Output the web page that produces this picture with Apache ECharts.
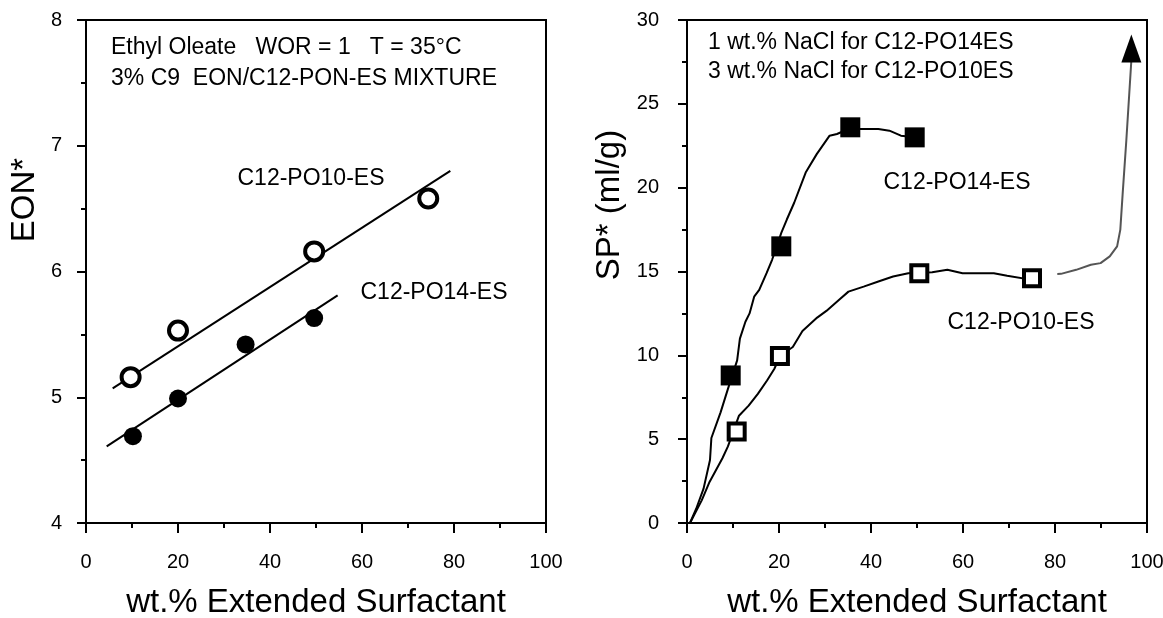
<!DOCTYPE html>
<html>
<head>
<meta charset="utf-8">
<script src="https://cdn.jsdelivr.net/npm/echarts@6/dist/echarts.min.js"></script>
<style>html,body{margin:0;padding:0;background:#fff}#c{width:1163px;height:618px}</style>
</head>
<body>
<div id="c"></div>
<script>
// ---------- data: left panel (EON*) ----------
const po10EonPoints = [[9.7, 5.16], [20, 5.53], [49.6, 6.16], [74.4, 6.58]];
const po14EonPoints = [[10.2, 4.69], [20, 4.99], [34.7, 5.42], [49.6, 5.63]];
const po10EonFit = [[5.8, 5.07], [79.2, 6.80]];
const po14EonFit = [[4.5, 4.61], [54.7, 5.81]];

// ---------- data: right panel (SP*) ----------
const po14SpPoints = [[9.5, 8.8], [20.5, 16.5], [35.5, 23.6], [49.5, 23.0]];
const po10SpPoints = [[10.8, 5.46], [20.2, 9.96], [50.5, 14.9], [75.0, 14.6]];
const po14SpCurve = [[0.65, 0], [2, 0.85], [3.6, 2.05], [5, 3.76], [5.3, 5.07], [7.3, 6.6], [8.9, 8.0],
  [10.9, 9.7], [11.5, 11.0], [12.7, 12.0], [13.6, 12.5], [14.6, 13.5], [15.7, 13.9], [17.3, 14.9],
  [18.5, 15.7], [20.5, 17.3], [21.7, 18.1], [23.3, 19.1], [25.8, 20.9], [28.2, 22.0], [31.0, 23.1],
  [32.6, 23.2], [35.1, 23.5], [41.6, 23.5], [44, 23.4], [46.5, 23.1], [49.5, 23.0]];
const po10SpCurve = [[0.65, 0], [3.2, 1.35], [4.9, 2.45], [7.7, 3.86], [8.9, 4.57], [11.3, 6.4],
  [13.4, 7.0], [15.4, 7.7], [17.4, 8.5], [19.0, 9.2], [20.2, 9.96], [23.0, 10.5], [25.1, 11.45],
  [28.3, 12.25], [30.3, 12.65], [33.2, 13.35], [35.1, 13.8], [38.4, 14.1], [41.6, 14.4], [44.8, 14.7],
  [48.1, 14.9], [53.3, 14.95], [56.6, 15.1], [59.9, 14.9], [66.7, 14.9], [69.6, 14.75], [75, 14.5]];
const arrowCurve = [[80.5, 14.85], [81.3, 14.86], [84.6, 15.1], [87.8, 15.4], [89.9, 15.5], [91.9, 15.9],
  [93.5, 16.5], [94.2, 17.5], [94.7, 19.6], [95.5, 22.8], [96.6, 27.6]];
const arrowHead = [[96.6, 28.3]];

// ---------- ticks ----------
const xTicks = {min: 0, max: 100, interval: 20};
const eonTicks = {min: 4, max: 8, interval: 1};
const spTicks = {min: 0, max: 30, interval: 5};

const FONT = '"Liberation Sans", Arial, sans-serif';
const chart = echarts.init(document.getElementById('c'), null, {renderer: 'canvas'});

function xAxisDef(gridIndex) {
  return {
    type: 'value', gridIndex, min: xTicks.min, max: xTicks.max, interval: xTicks.interval,
    name: 'wt.% Extended Surfactant', nameLocation: 'middle', nameGap: 63, nameMoveOverlap: false,
    nameTextStyle: {fontFamily: FONT, fontSize: 33, color: '#000'},
    axisLine: {show: true, onZero: false, lineStyle: {color: '#000', width: 2}},
    axisTick: {show: true, inside: false, length: 10, lineStyle: {color: '#000', width: 2}},
    minorTick: {show: true, splitNumber: 2, length: 5, lineStyle: {color: '#000', width: 2}},
    axisLabel: {fontFamily: FONT, fontSize: 20, color: '#000', margin: 29},
    splitLine: {show: false}
  };
}
function yAxisDef(gridIndex, t, margin) {
  return {
    type: 'value', gridIndex, min: t.min, max: t.max, interval: t.interval,
    axisLine: {show: true, onZero: false, lineStyle: {color: '#000', width: 2}},
    axisTick: {show: true, inside: false, length: 9, lineStyle: {color: '#000', width: 2}},
    minorTick: {show: true, splitNumber: 2, length: 5, lineStyle: {color: '#000', width: 2}},
    axisLabel: {fontFamily: FONT, fontSize: 20, color: '#000', margin},
    splitLine: {show: false}
  };
}

const txt = (x, y, text, size, align, rot) => ({
  type: 'text', x, y, rotation: rot || 0,
  style: {text, fontFamily: FONT, fontSize: size, fill: '#000', textAlign: align || 'left', textVerticalAlign: 'middle'}
});

chart.setOption({
  animation: false,
  backgroundColor: '#fff',
  grid: [
    {left: 86, top: 20, width: 460, height: 503, show: true, borderColor: '#000', borderWidth: 2,
      containLabel: false, outerBoundsMode: 'none'},
    {left: 687, top: 20, width: 460, height: 503, show: true, borderColor: '#000', borderWidth: 2,
      containLabel: false, outerBoundsMode: 'none'}
  ],
  xAxis: [xAxisDef(0), xAxisDef(1)],
  yAxis: [yAxisDef(0, eonTicks, 24), yAxisDef(1, spTicks, 28)],
  graphic: [
    txt(25, 200, 'EON*', 33, 'center', Math.PI / 2),
    txt(610, 205, 'SP* (ml/g)', 33, 'center', Math.PI / 2),
    txt(111, 48, 'Ethyl Oleate   WOR = 1   T = 35°C', 23),
    txt(111, 79, '3% C9  EON/C12-PON-ES MIXTURE', 23),
    txt(311, 179, 'C12-PO10-ES', 23, 'center'),
    txt(434, 293, 'C12-PO14-ES', 23, 'center'),
    txt(708, 43, '1 wt.% NaCl for C12-PO14ES', 23),
    txt(708, 72, '3 wt.% NaCl for C12-PO10ES', 23),
    txt(957, 183, 'C12-PO14-ES', 23, 'center'),
    txt(1021, 323, 'C12-PO10-ES', 23, 'center')
  ],
  series: [
    {type: 'line', xAxisIndex: 0, yAxisIndex: 0, data: po10EonFit, showSymbol: false, lineStyle: {color: '#000', width: 2}},
    {type: 'line', xAxisIndex: 0, yAxisIndex: 0, data: po14EonFit, showSymbol: false, lineStyle: {color: '#000', width: 2}},
    {type: 'scatter', xAxisIndex: 0, yAxisIndex: 0, data: po10EonPoints, symbol: 'circle', symbolSize: 18,
      itemStyle: {color: '#fff', borderColor: '#000', borderWidth: 4, opacity: 1}, z: 5},
    {type: 'scatter', xAxisIndex: 0, yAxisIndex: 0, data: po14EonPoints, symbol: 'circle', symbolSize: 18,
      itemStyle: {color: '#000', opacity: 1}, z: 5},
    {type: 'line', xAxisIndex: 1, yAxisIndex: 1, data: po14SpCurve, showSymbol: false, lineStyle: {color: '#000', width: 2}},
    {type: 'line', xAxisIndex: 1, yAxisIndex: 1, data: po10SpCurve, showSymbol: false, lineStyle: {color: '#000', width: 2}},
    {type: 'line', xAxisIndex: 1, yAxisIndex: 1, data: arrowCurve, showSymbol: false, lineStyle: {color: '#555', width: 2}},
    {type: 'scatter', xAxisIndex: 1, yAxisIndex: 1, data: arrowHead, symbol: 'triangle', symbolSize: [20, 28],
      itemStyle: {color: '#000', opacity: 1}, z: 6},
    {type: 'scatter', xAxisIndex: 1, yAxisIndex: 1, data: po14SpPoints, symbol: 'rect', symbolSize: 20,
      itemStyle: {color: '#000', opacity: 1}, z: 5},
    {type: 'scatter', xAxisIndex: 1, yAxisIndex: 1, data: po10SpPoints, symbol: 'rect', symbolSize: 16,
      itemStyle: {color: '#fff', borderColor: '#000', borderWidth: 4, opacity: 1}, z: 5}
  ]
});
</script>
</body>
</html>
